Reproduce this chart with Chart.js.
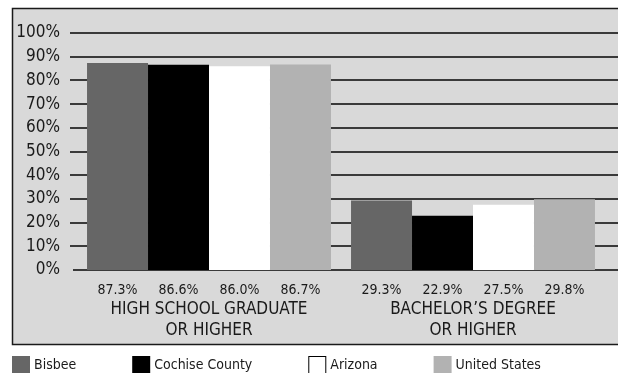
<!DOCTYPE html>
<html>
<head>
<meta charset="utf-8">
<script src="https://cdn.jsdelivr.net/npm/chart.js@4.4.1/dist/chart.umd.min.js"></script>
<style>
  html, body { margin: 0; padding: 0; background: #fff; }
  #wrap { width: 618px; height: 373px; position: relative; }
</style>
</head>
<body>
<div id="wrap"><canvas id="edu-chart" width="618" height="373"></canvas></div>
<script>
const FONT = "'Liberation Sans Narrow', 'DejaVu Sans Condensed', 'Arial Narrow', sans-serif";

// Educational attainment, percent of population 25+
const categories = [
  ['HIGH SCHOOL GRADUATE', 'OR HIGHER'],
  ['BACHELOR\u2019S DEGREE', 'OR HIGHER'],
];
const places = ['Bisbee', 'Cochise County', 'Arizona', 'United States'];
const bisbee = [87.3, 29.3];
const cochise = [86.6, 22.9];
const arizona = [86.0, 27.5];
const unitedStates = [86.7, 29.8];
const yTicks = [0, 10, 20, 30, 40, 50, 60, 70, 80, 90, 100];

const seriesValues = [bisbee, cochise, arizona, unitedStates];
const seriesColors = ['#666666', '#000000', '#ffffff', '#b2b2b2'];

const eduData = {
  labels: categories,
  datasets: places.map((name, i) => ({
    label: name,
    data: seriesValues[i],
    backgroundColor: seriesColors[i],
    borderWidth: 0,
  })),
};

// grey panel with a dark frame behind everything
const panelPlugin = {
  id: 'panel',
  beforeDraw(chart) {
    const ctx = chart.ctx;
    ctx.save();
    ctx.fillStyle = '#d9d9d9';
    ctx.fillRect(12, 8, 610, 337);
    ctx.strokeStyle = '#1a1a1a';
    ctx.lineWidth = 1.5;
    ctx.strokeRect(12.5, 8.5, 610, 336);
    ctx.restore();
  },
};

// horizontal rules across the full panel width, behind the bars
const rulesPlugin = {
  id: 'rules',
  beforeDatasetsDraw(chart) {
    const ctx = chart.ctx;
    const y = chart.scales.y;
    ctx.save();
    ctx.strokeStyle = '#3a3a3a';
    ctx.lineWidth = 2;
    yTicks.forEach((v) => {
      const py = Math.round(y.getPixelForValue(v));
      ctx.beginPath();
      ctx.moveTo(v === 0 ? 73 : 70, py);
      ctx.lineTo(chart.width, py);
      ctx.stroke();
    });
    ctx.restore();
  },
};

// value under each bar
const valuePlugin = {
  id: 'values',
  afterDatasetsDraw(chart) {
    const ctx = chart.ctx;
    ctx.save();
    ctx.font = '14px ' + FONT;
    ctx.fillStyle = '#1a1a1a';
    ctx.textAlign = 'center';
    ctx.textBaseline = 'middle';
    chart.data.datasets.forEach((ds, i) => {
      chart.getDatasetMeta(i).data.forEach((bar, j) => {
        ctx.fillText(ds.data[j].toFixed(1) + '%', bar.x, chart.chartArea.bottom + 20);
      });
    });
    ctx.restore();
  },
};

// legend row under the panel
const legendPlugin = {
  id: 'bottomLegend',
  afterDraw(chart) {
    const ctx = chart.ctx;
    ctx.save();
    ctx.font = '14px ' + FONT;
    ctx.textBaseline = 'middle';
    let x = 12;
    chart.data.datasets.forEach((ds) => {
      ctx.fillStyle = ds.backgroundColor;
      ctx.fillRect(x, 356, 18, 18);
      if (ds.backgroundColor === '#ffffff') {
        ctx.strokeStyle = '#000';
        ctx.lineWidth = 1;
        ctx.strokeRect(x + 0.5, 356.5, 17, 18);
      }
      ctx.fillStyle = '#1a1a1a';
      ctx.fillText(ds.label, x + 22, 365);
      x += 22 + ctx.measureText(ds.label).width + 56;
    });
    ctx.restore();
  },
};

const eduOptions = {
  responsive: false,
  animation: false,
  layout: {
    padding: { top: 33, right: 13, bottom: 0, left: 0 },
  },
  datasets: {
    bar: {
      categoryPercentage: 0.924,
      barPercentage: 1,
    },
  },
  scales: {
    x: {
      grid: { display: false, drawTicks: false },
      border: { display: false },
      ticks: {
        color: '#1a1a1a',
        font: { family: FONT, size: 17, lineHeight: 1.18 },
        padding: 30,
        maxRotation: 0,
        autoSkip: false,
      },
      afterFit(scale) {
        scale.height = 103;
      },
    },
    y: {
      min: 0,
      max: 100,
      grid: { display: false, drawTicks: false },
      border: { display: false },
      afterBuildTicks(scale) {
        scale.ticks = yTicks.map((v) => ({ value: v }));
      },
      ticks: {
        color: '#1a1a1a',
        font: { family: FONT, size: 17 },
        padding: 17,
        autoSkip: false,
        callback: (v) => v + '%',
      },
      afterFit(scale) {
        scale.width = 77;
      },
    },
  },
  plugins: {
    legend: { display: false },
    tooltip: { enabled: false },
  },
};

const eduChart = new Chart(document.getElementById('edu-chart'), {
  type: 'bar',
  data: eduData,
  options: eduOptions,
  plugins: [panelPlugin, rulesPlugin, valuePlugin, legendPlugin],
});
</script>
</body>
</html>
